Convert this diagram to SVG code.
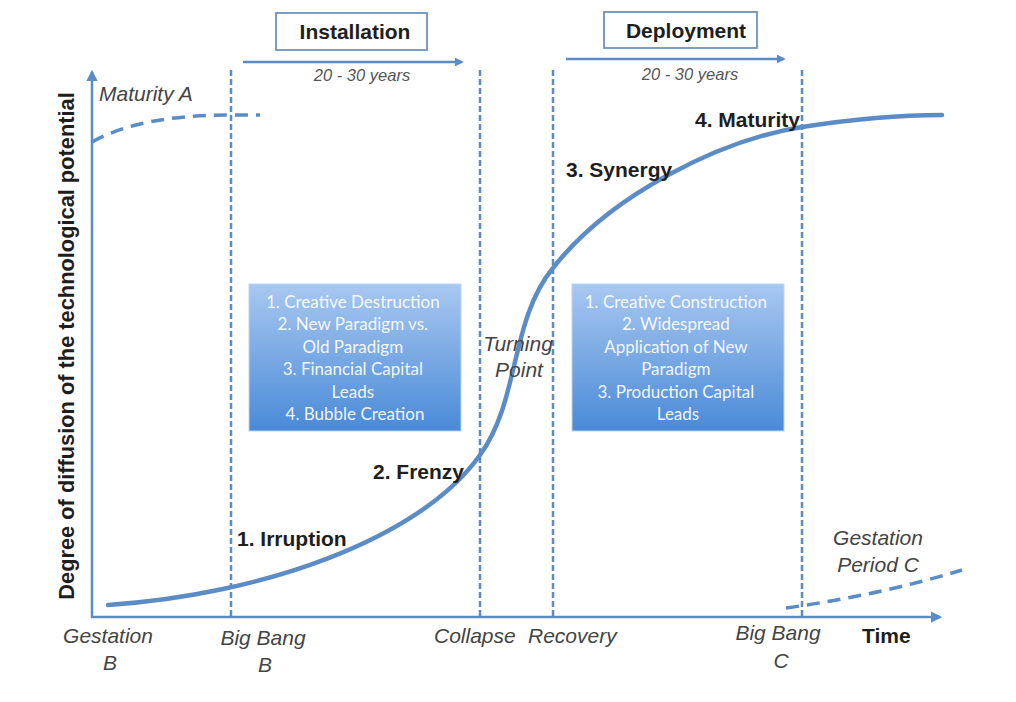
<svg xmlns="http://www.w3.org/2000/svg" width="1016" height="702" viewBox="0 0 1016 702">
<defs>
<linearGradient id="boxg" x1="0" y1="0" x2="0" y2="1">
<stop offset="0" stop-color="#a8c8f0"/>
<stop offset="1" stop-color="#4a8ad8"/>
</linearGradient>
<marker id="ah" viewBox="0 0 10 10" refX="8" refY="5" markerWidth="4.5" markerHeight="4.5" orient="auto" markerUnits="strokeWidth">
<path d="M0,0 L10,5 L0,10 z" fill="#5b8cc6"/>
</marker>
<marker id="ah2" viewBox="0 0 10 10" refX="8" refY="5" markerWidth="3.5" markerHeight="3.5" orient="auto" markerUnits="strokeWidth">
<path d="M0,0 L10,5 L0,10 z" fill="#5b8cc6"/>
</marker>
</defs>
<style>
.ax{stroke:#5b8cc6;stroke-width:2.5;fill:none}
.vd{stroke:#5b8cc6;stroke-width:2.5;stroke-dasharray:6 3;fill:none}
.dc{stroke:#5b8cc6;stroke-width:3.5;stroke-dasharray:13 8;fill:none}
.curve{stroke:#5b8cc6;stroke-width:4.5;fill:none;stroke-linecap:round}
.b{font-family:"Liberation Sans",Arial,sans-serif;font-weight:bold;font-size:21px;fill:#1e1e1e}
.i{font-family:"Liberation Sans",Arial,sans-serif;font-style:italic;font-size:21px;fill:#444}
.yl{font-size:21.8px}
.yr{font-family:"Liberation Sans",Arial,sans-serif;font-style:italic;font-size:16.5px;fill:#555}
.bx{font-family:Lato,"Open Sans",sans-serif;font-size:17px;fill:#ffffff;fill-opacity:0.93}
.pb{fill:#fff;stroke:#6f93bd;stroke-width:1.8}
.blue{fill:url(#boxg);stroke:#bcd4ef;stroke-width:1}
</style>
<rect width="1016" height="702" fill="#ffffff"/>

<g id="connectors">
<line class="ax" x1="92" y1="618" x2="92" y2="72" marker-end="url(#ah)"/>
<line class="ax" x1="91" y1="617" x2="940" y2="617" marker-end="url(#ah)"/>
<line class="vd" x1="231" y1="70" x2="231" y2="617"/>
<line class="vd" x1="480" y1="70" x2="480" y2="617"/>
<line class="vd" x1="553" y1="70" x2="553" y2="617"/>
<line class="vd" x1="802" y1="70" x2="802" y2="617"/>
<line class="ax" x1="243" y1="62" x2="462" y2="62" stroke-width="3" marker-end="url(#ah2)"/>
<line class="ax" x1="566" y1="59" x2="784" y2="59" stroke-width="3" marker-end="url(#ah2)"/>
<path class="dc" d="M92,142 Q140,115 230,115 L260,115"/>
<path class="dc" d="M786,608 Q880,595 962,570"/>
<path class="curve" d="M108,605 C260,595 420,540 480,455 C520,400 510,320 553,268 C610,195 720,140 802,127 C860,118 900,115 942,115"/>
</g>

<g id="installation">
<rect class="pb" x="276" y="13" width="151" height="37"/>
<text class="b" x="355" y="39" text-anchor="middle">Installation</text>
<text class="yr" x="362" y="81" text-anchor="middle">20 - 30 years</text>
</g>

<g id="deployment">
<rect class="pb" x="604" y="12" width="153" height="36"/>
<text class="b" x="686" y="38" text-anchor="middle">Deployment</text>
<text class="yr" x="690" y="80" text-anchor="middle">20 - 30 years</text>
</g>

<g id="box-installation">
<rect class="blue" x="249" y="284" width="212" height="147"/>
<text class="bx" text-anchor="middle">
<tspan x="355" y="308">1. Creative Destruction</tspan>
<tspan x="355" y="330">2. New Paradigm vs.</tspan>
<tspan x="355" y="353">Old Paradigm</tspan>
<tspan x="355" y="375">3. Financial Capital</tspan>
<tspan x="355" y="398">Leads</tspan>
<tspan x="355" y="420">4. Bubble Creation</tspan>
</text>
</g>

<g id="box-deployment">
<rect class="blue" x="572" y="284" width="212" height="147"/>
<text class="bx" text-anchor="middle">
<tspan x="678" y="308">1. Creative Construction</tspan>
<tspan x="678" y="330">2. Widespread</tspan>
<tspan x="678" y="353">Application of New</tspan>
<tspan x="678" y="375">Paradigm</tspan>
<tspan x="678" y="398">3. Production Capital</tspan>
<tspan x="678" y="420">Leads</tspan>
</text>
</g>

<g id="phases">
<text class="b" x="237" y="546">1. Irruption</text>
<text class="b" x="373" y="479">2. Frenzy</text>
<text class="b" x="566" y="177">3. Synergy</text>
<text class="b" x="695" y="127">4. Maturity</text>
</g>

<g id="turning-point">
<text class="i" text-anchor="middle"><tspan x="518" y="351">Turning</tspan><tspan x="519" y="377">Point</tspan></text>
</g>

<g id="maturity-a">
<text class="i" x="99" y="101">Maturity A</text>
</g>

<g id="gestation-c">
<text class="i" text-anchor="middle"><tspan x="878" y="545">Gestation</tspan><tspan x="878" y="572">Period C</tspan></text>
</g>

<g id="axis-labels">
<text class="b yl" transform="translate(74,346) rotate(-90)" text-anchor="middle">Degree of diffusion of the technological potential</text>
<text class="b" x="862" y="643">Time</text>
<text class="i" text-anchor="middle"><tspan x="108" y="643">Gestation</tspan><tspan x="110" y="670">B</tspan></text>
<text class="i" text-anchor="middle"><tspan x="263" y="645">Big Bang</tspan><tspan x="265" y="672">B</tspan></text>
<text class="i" x="434" y="643">Collapse</text>
<text class="i" x="528" y="643">Recovery</text>
<text class="i" text-anchor="middle"><tspan x="778" y="640">Big Bang</tspan><tspan x="781" y="668">C</tspan></text>
</g>
</svg>
